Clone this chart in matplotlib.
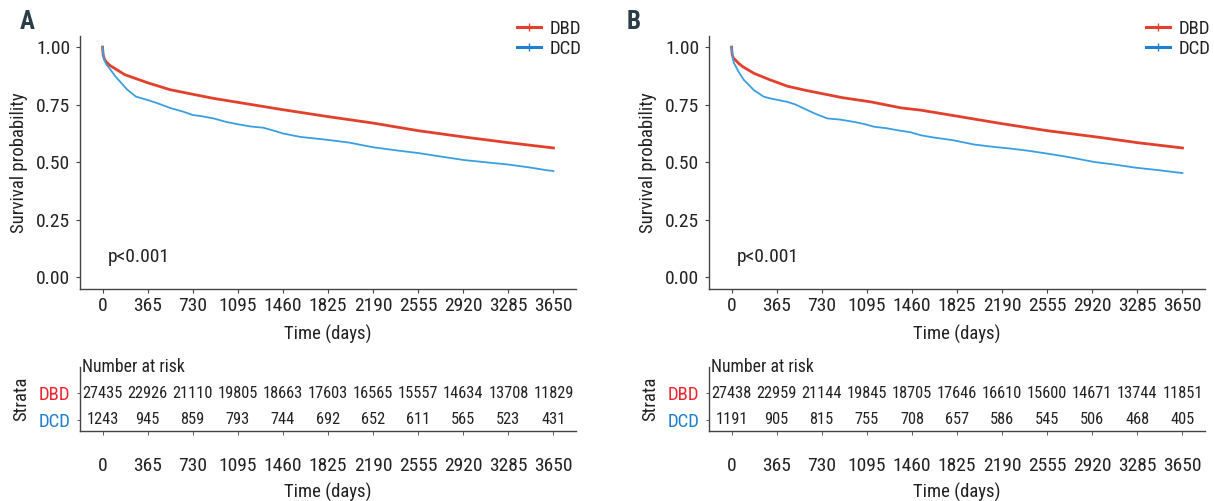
import matplotlib
matplotlib.use("Agg")
import matplotlib.pyplot as plt
from matplotlib.lines import Line2D
from matplotlib import font_manager as fm

# ---------------- data ----------------
time_ticks = [0, 365, 730, 1095, 1460, 1825, 2190, 2555, 2920, 3285, 3650]
groups = ["DBD", "DCD"]

# Panel A survival curves (time in days, survival probability)
a_dbd_t = [0, 5, 15, 30, 60, 90, 180, 365, 545, 730, 900, 1095, 1460, 1825, 2190, 2555, 2920, 3285, 3650]
a_dbd_s = [1.0, 0.965, 0.948, 0.935, 0.92, 0.91, 0.88, 0.845, 0.815, 0.795, 0.777, 0.76, 0.728, 0.698, 0.67,
           0.637, 0.61, 0.585, 0.562]
a_dcd_t = [0, 10, 30, 60, 100, 150, 200, 270, 365, 450, 550, 650, 730, 800, 900, 1000, 1095, 1200, 1300,
           1400, 1460, 1600, 1825, 2000, 2190, 2400, 2555, 2700, 2920, 3100, 3285, 3450, 3600, 3650]
a_dcd_s = [1.0, 0.95, 0.925, 0.905, 0.875, 0.845, 0.815, 0.785, 0.77, 0.755, 0.735, 0.72, 0.705, 0.70, 0.69,
           0.675, 0.665, 0.655, 0.65, 0.635, 0.625, 0.61, 0.597, 0.585, 0.565, 0.55, 0.54, 0.528, 0.51, 0.50,
           0.49, 0.478, 0.465, 0.462]

# Panel B survival curves
b_dbd_t = [0, 5, 15, 32, 60, 90, 181, 300, 452, 600, 722, 900, 1127, 1371, 1533, 1825, 2182, 2555, 2993, 3285, 3650]
b_dbd_s = [1.0, 0.967, 0.952, 0.943, 0.928, 0.915, 0.886, 0.86, 0.83, 0.812, 0.799, 0.78, 0.762, 0.736, 0.726,
           0.70, 0.668, 0.637, 0.607, 0.585, 0.562]
b_dcd_t = [0, 10, 20, 60, 100, 150, 180, 262, 330, 452, 520, 587, 680, 776, 880, 993, 1080, 1154, 1250, 1343,
           1450, 1533, 1641, 1800, 1963, 2100, 2263, 2400, 2550, 2723, 2850, 2939, 3100, 3263, 3450, 3650]
b_dcd_s = [1.0, 0.95, 0.93, 0.89, 0.857, 0.83, 0.813, 0.784, 0.775, 0.762, 0.75, 0.733, 0.71, 0.69, 0.685,
           0.675, 0.665, 0.654, 0.648, 0.639, 0.63, 0.617, 0.607, 0.595, 0.577, 0.568, 0.559, 0.55, 0.538,
           0.523, 0.51, 0.501, 0.49, 0.477, 0.466, 0.453]

# Numbers at risk
a_risk_dbd = [27435, 22926, 21110, 19805, 18663, 17603, 16565, 15557, 14634, 13708, 11829]
a_risk_dcd = [1243, 945, 859, 793, 744, 692, 652, 611, 565, 523, 431]
b_risk_dbd = [27438, 22959, 21144, 19845, 18705, 17646, 16610, 15600, 14671, 13744, 11851]
b_risk_dcd = [1191, 905, 815, 755, 708, 657, 586, 545, 506, 468, 405]

p_text = "p<0.001"

# ---------------- font choice: prefer a condensed face ----------------
names = {f.name for f in fm.fontManager.ttflist}
chosen = None
stretch = 'normal'
for cand in ['Liberation Sans Narrow', 'Roboto Condensed', 'Open Sans Condensed', 'Noto Sans Condensed',
             'DejaVu Sans Condensed', 'Arial Narrow']:
    if cand in names:
        chosen = cand
        break
if chosen is None:
    for f in fm.fontManager.ttflist:
        st = f.stretch
        if isinstance(st, str):
            cond = 'condensed' in st
        else:
            cond = st < 500
        if cond and ('Sans' in f.name or 'Roboto' in f.name or 'Lato' in f.name):
            chosen = f.name
            stretch = 'condensed'
            break
if chosen is None:
    for cand in ['Roboto', 'Lato', 'Noto Sans', 'DejaVu Sans']:
        if cand in names:
            chosen = cand
            break
    SC = 0.82
else:
    SC = 1.0

plt.rcParams['font.family'] = [chosen, 'DejaVu Sans']
plt.rcParams['font.stretch'] = stretch

# ---------------- style ----------------
RED = "#E2402D"
BLUE = "#3A9FE0"
RED_TXT = "#F0222C"
BLUE_TXT = "#1C7ED0"
LEG_BLUE = "#1F7FD0"
TXT = "#222222"
SPINE = "#444444"

FS_TICK = 14 * SC
FS_LAB = 13.5 * SC
FS_TAB = 11.8 * SC

W, H = 1214, 501
fig = plt.figure(figsize=(W / 100, H / 100), dpi=100)

def fx(px):
    return px / W

def fy(py):
    return 1 - py / H

panels = [
    dict(left=80, right=576, curves=[(a_dbd_t, a_dbd_s), (a_dcd_t, a_dcd_s)],
         risk=[a_risk_dbd, a_risk_dcd], leg_x=517, lab="A", lab_x=20),
    dict(left=709, right=1205, curves=[(b_dbd_t, b_dbd_s), (b_dcd_t, b_dcd_s)],
         risk=[b_risk_dbd, b_risk_dcd], leg_x=1146, lab="B", lab_x=627),
]

xlim = (-182.5, 3832.5)

for p in panels:
    # main survival axes
    ax = fig.add_axes([fx(p["left"]), fy(289), fx(p["right"] - p["left"]), (289 - 35.5) / H])
    (t1, s1), (t2, s2) = p["curves"]
    ax.plot(t1, s1, color=RED, lw=2.0, solid_joinstyle='round')
    ax.plot(t2, s2, color=BLUE, lw=1.3, solid_joinstyle='round')
    ax.set_xlim(*xlim)
    ax.set_ylim(-0.05, 1.05)
    ax.set_xticks(time_ticks)
    ax.set_xticklabels([str(t) for t in time_ticks])
    ax.set_yticks([0, 0.25, 0.5, 0.75, 1.0])
    ax.set_yticklabels(["0.00", "0.25", "0.50", "0.75", "1.00"])
    for sp in ["top", "right"]:
        ax.spines[sp].set_visible(False)
    for sp in ["left", "bottom"]:
        ax.spines[sp].set_color(SPINE)
        ax.spines[sp].set_linewidth(1.0)
    ax.tick_params(axis='both', labelsize=FS_TICK, colors=SPINE, labelcolor=TXT, length=3, width=0.8)
    ax.tick_params(axis='x', pad=3)
    ax.tick_params(axis='y', pad=4)
    ax.set_xlabel("Time (days)", fontsize=FS_LAB, color=TXT, labelpad=7)
    ax.set_ylabel("Survival probability", fontsize=FS_LAB, color=TXT, labelpad=6)
    ax.text(40, 0.09, p_text, fontsize=FS_TICK, color=TXT, ha='left', va='center')

    # legend
    handles = [Line2D([], [], color=RED, lw=2.2, marker='|', markersize=6, markeredgewidth=1.0),
               Line2D([], [], color=LEG_BLUE, lw=2.2, marker='|', markersize=6, markeredgewidth=1.0)]
    fig.legend(handles, groups, loc='upper left', bbox_to_anchor=(fx(p["leg_x"]), fy(20)),
               frameon=False, fontsize=FS_LAB, handlelength=1.3, handletextpad=0.45,
               labelspacing=0.1, borderpad=0, borderaxespad=0, labelcolor=TXT)

    # panel label
    fig.text(fx(p["lab_x"]), fy(22), p["lab"], fontsize=18, fontweight='bold',
             color="#2B3D48", ha='left', va='center')

    # risk table
    tax = fig.add_axes([fx(p["left"]), fy(431), fx(p["right"] - p["left"]), (431 - 367) / H])
    tax.set_xlim(*xlim)
    tax.set_ylim(1 - 11 / 27, 2 + 26 / 27)
    rows = [2, 1]
    colors = [RED_TXT, BLUE_TXT]
    for vals, row in zip(p["risk"], rows):
        for t, v in zip(time_ticks, vals):
            tax.text(t, row, str(v), ha='center', va='center', fontsize=FS_TAB, color=TXT)
    tax.set_yticks(rows)
    tax.set_yticklabels(groups)
    tax.set_xticks(time_ticks)
    tax.set_xticklabels([str(t) for t in time_ticks])
    for sp in ["top", "right"]:
        tax.spines[sp].set_visible(False)
    for sp in ["left", "bottom"]:
        tax.spines[sp].set_color(SPINE)
        tax.spines[sp].set_linewidth(1.0)
    tax.tick_params(axis='y', labelsize=FS_LAB, length=2, width=0.6, colors=SPINE, pad=5)
    for lbl, c in zip(tax.get_yticklabels(), colors):
        lbl.set_color(c)
    tax.tick_params(axis='x', labelsize=FS_TICK, length=3, width=0.6, colors=SPINE, labelcolor=TXT, pad=16)
    tax.set_xlabel("Time (days)", fontsize=FS_LAB, color=TXT, labelpad=5)
    tax.set_ylabel("Strata", fontsize=FS_LAB, color=TXT, labelpad=6)
    tax.text(0.005, 1.0, "Number at risk", transform=tax.transAxes, ha='left', va='center',
             fontsize=FS_LAB * 0.95, color=TXT)

fig.savefig("out.png", dpi=100)
